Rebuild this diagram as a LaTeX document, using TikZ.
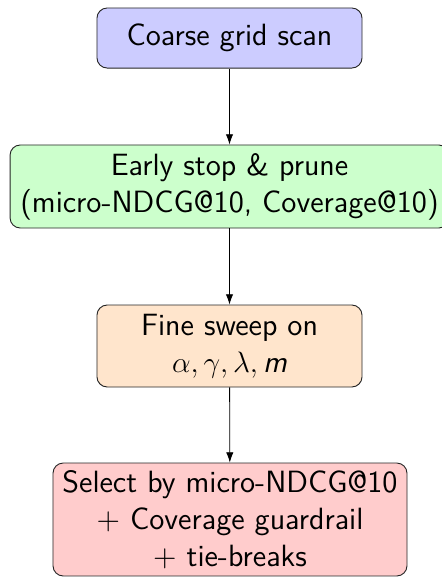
\documentclass[tikz,border=0pt]{standalone}
\usetikzlibrary{arrows.meta}
\begin{document}
\begin{tikzpicture}[x=0.4878pt, y=-0.4878pt,
  stage/.style={draw=black!85, line width=0.45pt, rounded corners=5pt,
    align=center, font=\sffamily\fontsize{15}{18}\selectfont, inner sep=1pt},
  flow/.style={-{Latex[length=5pt,width=3.6pt]}, draw=black, line width=0.4pt}]
\useasboundingbox (0,0) rectangle (442,577);
\node[stage, fill=blue!20, minimum width=129.3pt, minimum height=29.3pt]
  (coarse) at (229.5,38) {Coarse grid scan};
\node[stage, fill=green!20, minimum width=214.1pt, minimum height=40.5pt]
  (prune) at (229.5,186.5) {Early stop \& prune\\(micro-NDCG@10, Coverage@10)};
\node[stage, fill=orange!20, minimum width=129.3pt, minimum height=40pt]
  (fine) at (229.5,346) {Fine sweep on\\$\alpha,\gamma,\lambda,\mbox{\textit{m}}$};
\node[stage, fill=red!20, minimum width=172.7pt, minimum height=55.1pt]
  (select) at (230,519.5) {Select by micro-NDCG@10\\+ Coverage guardrail\\+ tie-breaks};
\draw[flow] (coarse) -- (prune);
\draw[flow] (prune) -- (fine);
\draw[flow] (fine) -- (select);
\end{tikzpicture}
\end{document}
